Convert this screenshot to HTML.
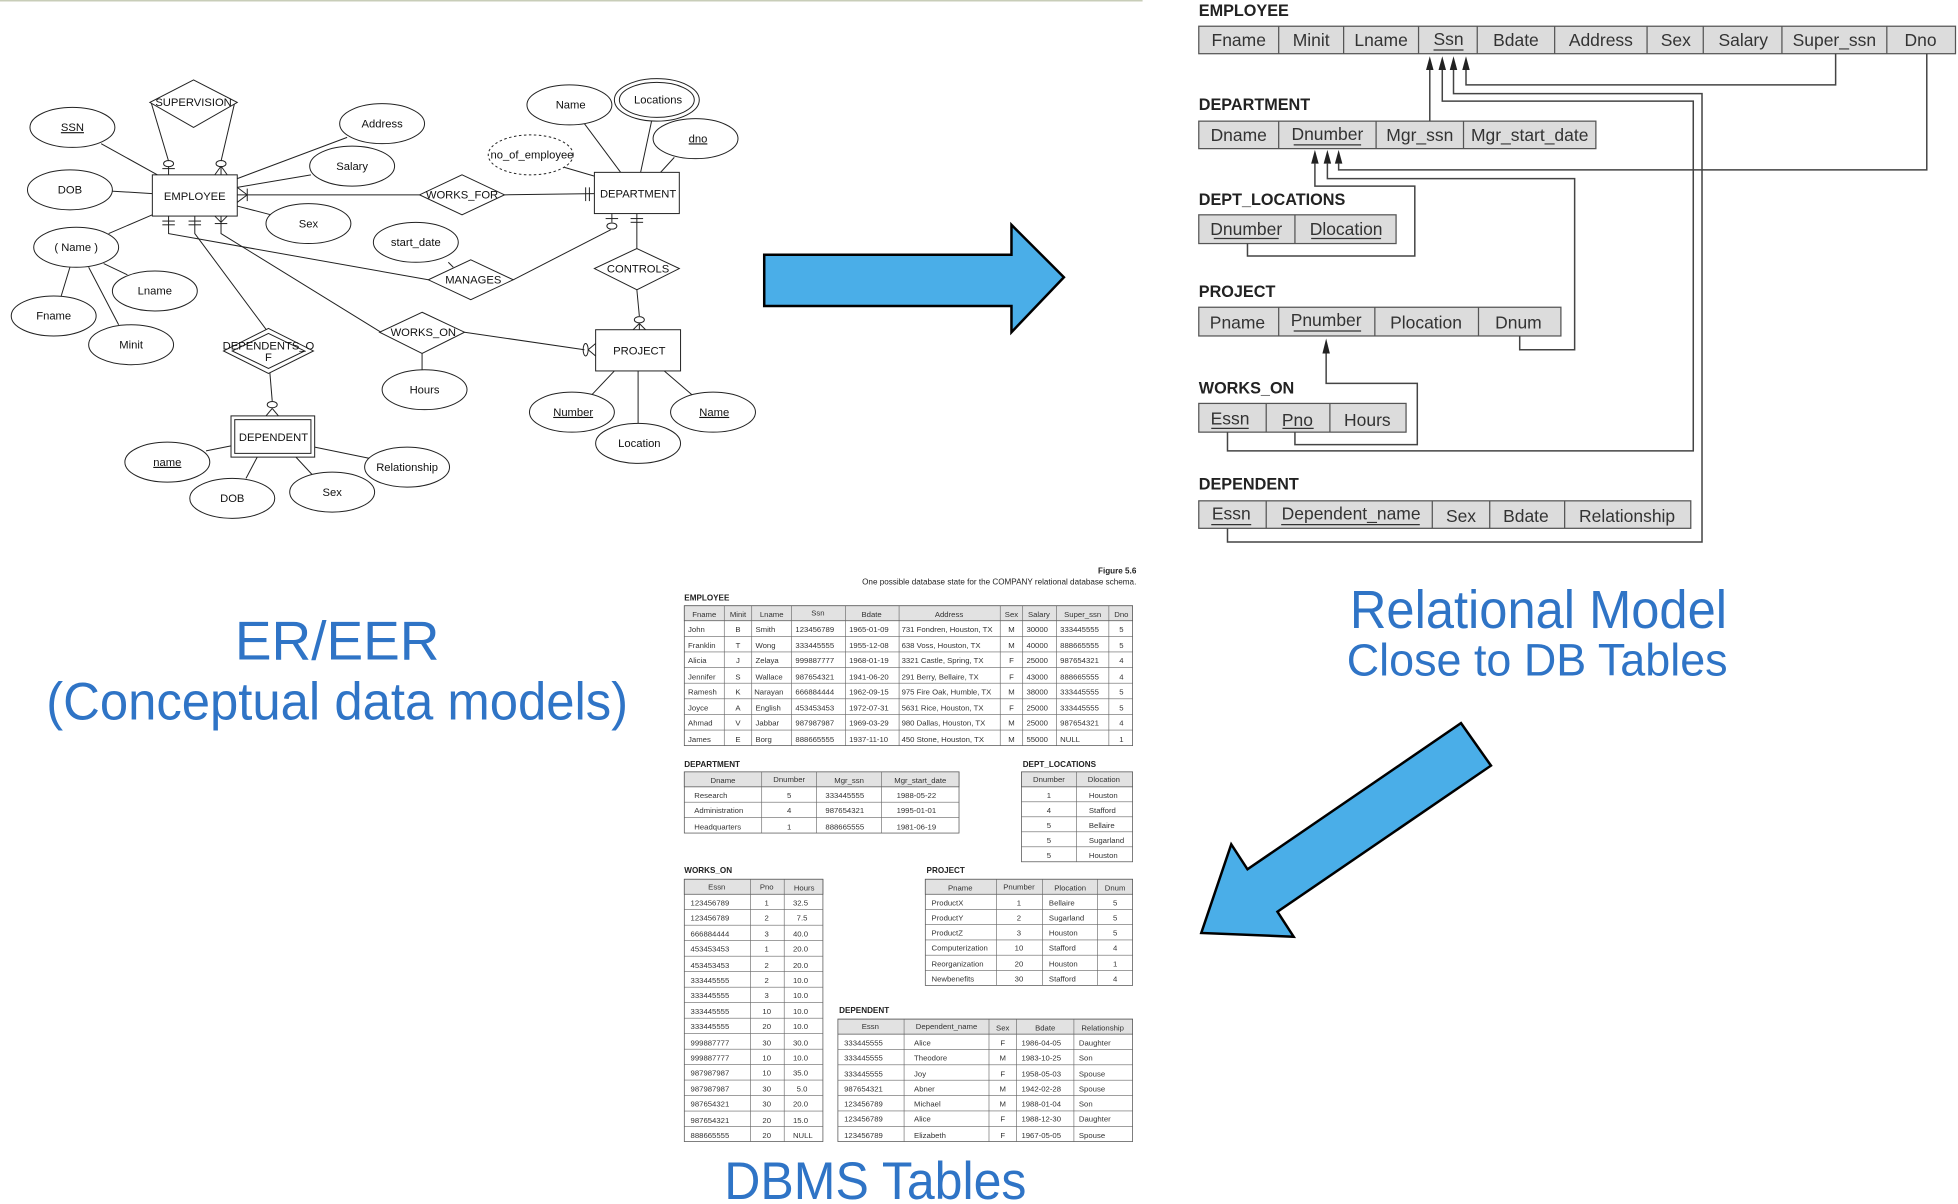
<!DOCTYPE html>
<html><head><meta charset="utf-8"><style>
html,body{margin:0;padding:0;background:#fff;}
svg{display:block;}
text{font-family:"Liberation Sans",Arial,sans-serif;}
</style></head><body>
<svg width="1958" height="1204" viewBox="0 0 1568 964" preserveAspectRatio="none" xmlns="http://www.w3.org/2000/svg">
<line x1="0" y1="0.5" x2="915" y2="0.5" stroke="#c8cdb8" stroke-width="1.5"/>

<!-- ER diagram -->
<g stroke="#222" stroke-width="0.8" fill="none">
<!-- attribute lines -->
<line x1="81" y1="115" x2="126" y2="140"/><line x1="89" y1="153" x2="122" y2="155"/>
<line x1="278" y1="110" x2="190" y2="143"/><line x1="249" y1="140" x2="190" y2="150"/>
<line x1="217" y1="172" x2="190" y2="165"/><line x1="87" y1="187" x2="122" y2="172"/>
<line x1="56" y1="214" x2="49" y2="237"/><line x1="71" y1="214" x2="95" y2="260"/>
<line x1="83" y1="211" x2="102" y2="220"/>
<line x1="121" y1="82" x2="135" y2="129"/><line x1="188" y1="82" x2="177" y2="129"/>
<line x1="135" y1="133" x2="135" y2="140"/><line x1="177" y1="133" x2="177" y2="140"/>
<line x1="130" y1="135" x2="140" y2="135"/><line x1="172" y1="140" x2="177" y2="133"/><line x1="182" y1="140" x2="177" y2="133"/>
<ellipse cx="135" cy="131" rx="4" ry="2.5"/><ellipse cx="177" cy="131" rx="4" ry="2.5"/>
<!-- works_for -->
<line x1="190" y1="156" x2="336" y2="156"/><line x1="190" y1="150" x2="198" y2="156"/><line x1="190" y1="162" x2="198" y2="156"/><line x1="198" y1="151" x2="198" y2="161"/>
<line x1="404" y1="156" x2="476" y2="155"/><line x1="469" y1="150" x2="469" y2="161"/><line x1="472" y1="150" x2="472" y2="161"/>
<!-- manages -->
<polyline points="135,173 135,187 343,224"/><line x1="130" y1="177" x2="140" y2="177"/><line x1="130" y1="180" x2="140" y2="180"/>
<line x1="411" y1="224" x2="489" y2="184"/><ellipse cx="490" cy="181" rx="4" ry="2.5"/><line x1="490" y1="171" x2="490" y2="178"/><line x1="485" y1="175" x2="495" y2="175"/>
<line x1="359" y1="210" x2="363" y2="214"/>
<!-- controls -->
<line x1="510" y1="171" x2="510" y2="199"/><line x1="505" y1="175" x2="515" y2="175"/><line x1="505" y1="178" x2="515" y2="178"/>
<line x1="510" y1="232" x2="512" y2="253"/><ellipse cx="512" cy="256" rx="4" ry="2.5"/><line x1="512" y1="259" x2="507" y2="264"/><line x1="512" y1="259" x2="517" y2="264"/><line x1="512" y1="259" x2="512" y2="264"/>
<!-- works_on -->
<polyline points="177,173 177,187 305,266"/><line x1="172" y1="179" x2="182" y2="179"/><line x1="172" y1="173" x2="177" y2="178"/><line x1="182" y1="173" x2="177" y2="178"/>
<line x1="372" y1="266" x2="468" y2="280"/><ellipse cx="469" cy="280" rx="2" ry="5"/><line x1="471" y1="280" x2="477" y2="275"/><line x1="471" y1="280" x2="477" y2="285"/>
<line x1="338" y1="283" x2="338" y2="296"/>
<!-- dependents_of -->
<polyline points="156,173 156,187 214,265"/><line x1="151" y1="177" x2="161" y2="177"/><line x1="151" y1="180" x2="161" y2="180"/>
<line x1="216" y1="297" x2="218" y2="321"/><ellipse cx="218" cy="324" rx="4" ry="2.5"/><line x1="218" y1="327" x2="213" y2="333"/><line x1="218" y1="327" x2="223" y2="333"/>
<!-- dept attrs -->
<line x1="468" y1="99" x2="497" y2="138"/><line x1="522" y1="96" x2="513" y2="138"/><line x1="540" y1="126" x2="529" y2="138"/><line x1="452" y1="134" x2="476" y2="141"/>
<!-- dependent attrs -->
<line x1="165" y1="361" x2="185" y2="357"/><line x1="197" y1="383" x2="206" y2="366"/><line x1="250" y1="380" x2="237" y2="366"/><line x1="296" y1="367" x2="252" y2="358"/>
<!-- project attrs -->
<line x1="474" y1="316" x2="492" y2="297"/><line x1="511" y1="340" x2="511" y2="297"/><line x1="554" y1="316" x2="532" y2="297"/>
</g>
<g stroke="#222" stroke-width="0.8" fill="#fff">
<rect x="122" y="140" width="68" height="33"/><rect x="476" y="138" width="68" height="33"/>
<rect x="477" y="264" width="68" height="33"/>
<rect x="185" y="333" width="67" height="33"/><rect x="188" y="336" width="61" height="27"/>
<polygon points="155,64 190,82 155,102 120,82"/>
<polygon points="370,140 404,156 370,172 336,156"/>
<polygon points="377,208 411,224 377,240 343,224"/>
<polygon points="510,199 544,215 510,232 476,215"/>
<polygon points="338,250 372,266 338,283 304,266"/>
<polygon points="215,263 251,281 215,299 179,281"/><polygon points="215,267 244,281 215,295 186,281"/>
<ellipse cx="58" cy="102" rx="34" ry="16"/><ellipse cx="56" cy="152" rx="34" ry="16"/>
<ellipse cx="306" cy="99" rx="34" ry="16"/><ellipse cx="282" cy="133" rx="34" ry="16"/>
<ellipse cx="247" cy="179" rx="34" ry="16"/><ellipse cx="61" cy="198" rx="34" ry="16"/>
<ellipse cx="124" cy="233" rx="34" ry="16"/><ellipse cx="43" cy="253" rx="34" ry="16"/>
<ellipse cx="105" cy="276" rx="34" ry="16"/><ellipse cx="333" cy="194" rx="34" ry="16"/>
<ellipse cx="340" cy="312" rx="34" ry="16"/><ellipse cx="134" cy="370" rx="34" ry="16"/>
<ellipse cx="186" cy="399" rx="34" ry="16"/><ellipse cx="266" cy="394" rx="34" ry="16"/>
<ellipse cx="326" cy="374" rx="34" ry="16"/><ellipse cx="456" cy="84" rx="34" ry="16"/>
<ellipse cx="526" cy="80" rx="34" ry="17"/><ellipse cx="526" cy="80" rx="30" ry="14"/>
<ellipse cx="557" cy="111" rx="34" ry="16"/>
<ellipse cx="425" cy="124" rx="34" ry="16" stroke-dasharray="2,2"/>
<ellipse cx="458" cy="330" rx="34" ry="16"/><ellipse cx="511" cy="355" rx="34" ry="16"/>
<ellipse cx="571" cy="330" rx="34" ry="16"/>
</g>
<g font-size="9" fill="#111" text-anchor="middle">
<text x="156" y="160">EMPLOYEE</text><text x="511" y="158">DEPARTMENT</text>
<text x="512" y="284">PROJECT</text><text x="219" y="353">DEPENDENT</text>
<text x="155" y="85">SUPERVISION</text><text x="370" y="159">WORKS_FOR</text>
<text x="379" y="227">MANAGES</text><text x="511" y="218">CONTROLS</text>
<text x="339" y="269">WORKS_ON</text><text x="215" y="280">DEPENDENTS_O</text><text x="215" y="289">F</text>
<text x="58" y="105" text-decoration="underline">SSN</text><text x="56" y="155">DOB</text>
<text x="306" y="102">Address</text><text x="282" y="136">Salary</text>
<text x="247" y="182">Sex</text><text x="61" y="201">( Name )</text>
<text x="124" y="236">Lname</text><text x="43" y="256">Fname</text>
<text x="105" y="279">Minit</text><text x="333" y="197">start_date</text>
<text x="340" y="315">Hours</text><text x="134" y="373" text-decoration="underline">name</text>
<text x="186" y="402">DOB</text><text x="266" y="397">Sex</text>
<text x="326" y="377">Relationship</text><text x="457" y="87">Name</text>
<text x="527" y="83">Locations</text><text x="559" y="114" text-decoration="underline">dno</text>
<text x="426" y="127">no_of_employee</text>
<text x="459" y="333" text-decoration="underline">Number</text><text x="512" y="358">Location</text>
<text x="572" y="333" text-decoration="underline">Name</text>
</g>

<!-- Arrows -->
<polygon points="612,204 810,204 810,180 852,222 810,266 810,245 612,245" fill="#4aaee8" stroke="#000" stroke-width="2"/>
<polygon points="1170,579 1194,613 1023,730 1036,750 962,747 986,676 999,696" fill="#4aaee8" stroke="#000" stroke-width="2"/>

<!-- Big labels -->
<g fill="#2f74c6" text-anchor="middle">
<text x="270" y="528" font-size="44">ER/EER</text>
<text x="270" y="576" font-size="42" textLength="466" lengthAdjust="spacingAndGlyphs">(Conceptual data models)</text>
<text x="1232" y="503" font-size="43" textLength="302" lengthAdjust="spacingAndGlyphs">Relational Model</text>
<text x="1231" y="541" font-size="36" textLength="305" lengthAdjust="spacingAndGlyphs">Close to DB Tables</text>
<text x="701" y="960" font-size="42" textLength="242" lengthAdjust="spacingAndGlyphs">DBMS Tables</text>
</g>

<!-- Relational schema -->
<g font-size="13" font-weight="bold" fill="#222">
<text x="960" y="13">EMPLOYEE</text><text x="960" y="88">DEPARTMENT</text>
<text x="960" y="164">DEPT_LOCATIONS</text><text x="960" y="238">PROJECT</text>
<text x="960" y="315">WORKS_ON</text><text x="960" y="392">DEPENDENT</text>
</g>
<g fill="#dcdcdc" stroke="#555" stroke-width="1">
<rect x="960" y="21" width="606" height="22"/><rect x="960" y="97" width="318" height="22"/>
<rect x="960" y="172" width="158" height="23"/><rect x="960" y="246" width="290" height="23"/>
<rect x="960" y="323" width="166" height="23"/><rect x="960" y="401" width="394" height="22"/>
</g>
<g stroke="#555" stroke-width="1">
<line x1="1024" y1="21" x2="1024" y2="43"/><line x1="1076" y1="21" x2="1076" y2="43"/><line x1="1136" y1="21" x2="1136" y2="43"/><line x1="1183" y1="21" x2="1183" y2="43"/><line x1="1245" y1="21" x2="1245" y2="43"/><line x1="1319" y1="21" x2="1319" y2="43"/><line x1="1364" y1="21" x2="1364" y2="43"/><line x1="1427" y1="21" x2="1427" y2="43"/><line x1="1511" y1="21" x2="1511" y2="43"/>
<line x1="1024" y1="97" x2="1024" y2="119"/><line x1="1102" y1="97" x2="1102" y2="119"/><line x1="1172" y1="97" x2="1172" y2="119"/>
<line x1="1037" y1="172" x2="1037" y2="195"/>
<line x1="1024" y1="246" x2="1024" y2="269"/><line x1="1101" y1="246" x2="1101" y2="269"/><line x1="1184" y1="246" x2="1184" y2="269"/>
<line x1="1014" y1="323" x2="1014" y2="346"/><line x1="1065" y1="323" x2="1065" y2="346"/>
<line x1="1014" y1="401" x2="1014" y2="423"/><line x1="1147" y1="401" x2="1147" y2="423"/><line x1="1193" y1="401" x2="1193" y2="423"/><line x1="1253" y1="401" x2="1253" y2="423"/>
</g>
<g font-size="14" fill="#333" text-anchor="middle">
<text x="992" y="37">Fname</text><text x="1050" y="37">Minit</text><text x="1106" y="37">Lname</text><text x="1160" y="36">Ssn</text><text x="1214" y="37">Bdate</text><text x="1282" y="37">Address</text><text x="1342" y="37">Sex</text><text x="1396" y="37">Salary</text><text x="1469" y="37">Super_ssn</text><text x="1538" y="37">Dno</text>
<text x="992" y="113">Dname</text><text x="1063" y="112">Dnumber</text><text x="1137" y="113">Mgr_ssn</text><text x="1225" y="113">Mgr_start_date</text>
<text x="998" y="188">Dnumber</text><text x="1078" y="188">Dlocation</text>
<text x="991" y="263">Pname</text><text x="1062" y="261">Pnumber</text><text x="1142" y="263">Plocation</text><text x="1216" y="263">Dnum</text>
<text x="985" y="340">Essn</text><text x="1039" y="341">Pno</text><text x="1095" y="341">Hours</text>
<text x="986" y="416">Essn</text><text x="1082" y="416">Dependent_name</text><text x="1170" y="418">Sex</text><text x="1222" y="418">Bdate</text><text x="1303" y="418">Relationship</text>
</g>
<g stroke="#333" stroke-width="1">
<line x1="1148" y1="40" x2="1172" y2="40"/><line x1="1036" y1="116" x2="1090" y2="116"/>
<line x1="972" y1="191" x2="1024" y2="191"/><line x1="1050" y1="191" x2="1106" y2="191"/>
<line x1="1036" y1="265" x2="1090" y2="265"/><line x1="970" y1="343" x2="1000" y2="343"/><line x1="1027" y1="343" x2="1052" y2="343"/>
<line x1="970" y1="420" x2="1002" y2="420"/><line x1="1026" y1="420" x2="1137" y2="420"/>
</g>
<g stroke="#444" stroke-width="1.2" fill="none">
<polyline points="1145,56 1145,97"/>
<polyline points="1155,56 1155,81 1356,81 1356,361 983,361 983,346"/>
<polyline points="1164,56 1164,75 1363,75 1363,434 983,434 983,423"/>
<polyline points="1174,56 1174,68 1470,68 1470,43"/>
<polyline points="1072,131 1072,136 1543,136 1543,43"/>
<polyline points="1063,131 1063,143 1261,143 1261,280 1217,280 1217,269"/>
<polyline points="1053,131 1053,149 1133,149 1133,205 999,205 999,195"/>
<polyline points="1062,283 1062,307 1135,307 1135,356 1037,356 1037,346"/>
</g>
<g fill="#222">
<polygon points="1142,56 1145,45 1148,56"/><polygon points="1152,56 1155,45 1158,56"/><polygon points="1161,56 1164,45 1167,56"/><polygon points="1171,56 1174,45 1177,56"/>
<polygon points="1050,131 1053,120 1056,131"/><polygon points="1060,131 1063,120 1066,131"/><polygon points="1069,131 1072,120 1075,131"/>
<polygon points="1059,283 1062,271 1065,283"/>
</g>

<!-- DBMS tables -->
<g font-size="6.5" fill="#222">
<text x="910" y="459" text-anchor="end" font-weight="bold">Figure 5.6</text>
<text x="910" y="468" text-anchor="end">One possible database state for the COMPANY relational database schema.</text>
<text x="548" y="481" font-weight="bold">EMPLOYEE</text>
<text x="548" y="614" font-weight="bold">DEPARTMENT</text>
<text x="819" y="614" font-weight="bold">DEPT_LOCATIONS</text>
<text x="548" y="699" font-weight="bold">WORKS_ON</text>
<text x="742" y="699" font-weight="bold">PROJECT</text>
<text x="672" y="811" font-weight="bold">DEPENDENT</text>
</g>
<g fill="#fff" stroke="#555" stroke-width="0.6">
<rect x="548" y="485" width="359" height="112"/><rect x="548" y="618" width="220" height="49"/>
<rect x="818" y="618" width="89" height="72"/><rect x="548" y="704" width="111" height="210"/>
<rect x="741" y="704" width="166" height="85"/><rect x="671" y="816" width="236" height="98"/>
</g>
<g fill="#e2e2e2" stroke="#555" stroke-width="0.6">
<rect x="548" y="485" width="359" height="12"/><rect x="548" y="618" width="220" height="12"/>
<rect x="818" y="618" width="89" height="12"/><rect x="548" y="704" width="111" height="12"/>
<rect x="741" y="704" width="166" height="12"/><rect x="671" y="816" width="236" height="12"/>
</g>
<g stroke="#666" stroke-width="0.5">
<path d="M580 485V597M602 485V597M634 485V597M677 485V597M720 485V597M801 485V597M819 485V597M846 485V597M888 485V597M548 509.5H907M548 522H907M548 534.5H907M548 547H907M548 559.5H907M548 572H907M548 584.5H907"/>
<path d="M610 618V667M654 618V667M706 618V667M548 642.3H768M548 654.6H768"/>
<path d="M862 618V690M818 642H907M818 654H907M818 666H907M818 678H907"/>
<path d="M601 704V914M628 704V914M548 728.4H659M548 740.8H659M548 753.2H659M548 765.6H659M548 778H659M548 790.4H659M548 802.8H659M548 815.2H659M548 827.6H659M548 840H659M548 852.4H659M548 864.8H659M548 877.2H659M548 889.6H659M548 902H659"/>
<path d="M798 704V789M835 704V789M879 704V789M741 728.2H907M741 740.4H907M741 752.6H907M741 764.8H907M741 777H907"/>
<path d="M724 816V914M792 816V914M814 816V914M860 816V914M671 840.3H907M671 852.6H907M671 864.9H907M671 877.2H907M671 889.5H907M671 901.8H907"/>
</g>
<g font-size="6.2" fill="#333">
<g text-anchor="middle">
<text x="564" y="494">Fname</text><text x="591" y="494">Minit</text><text x="618" y="494">Lname</text><text x="655" y="493">Ssn</text><text x="698" y="494">Bdate</text><text x="760" y="494">Address</text><text x="810" y="494">Sex</text><text x="832" y="494">Salary</text><text x="867" y="494">Super_ssn</text><text x="898" y="494">Dno</text>
<text x="579" y="627">Dname</text><text x="632" y="626">Dnumber</text><text x="680" y="627">Mgr_ssn</text><text x="737" y="627">Mgr_start_date</text>
<text x="840" y="626">Dnumber</text><text x="884" y="626">Dlocation</text>
<text x="574" y="712">Essn</text><text x="614" y="712">Pno</text><text x="644" y="713">Hours</text>
<text x="769" y="713">Pname</text><text x="816" y="712">Pnumber</text><text x="857" y="713">Plocation</text><text x="893" y="713">Dnum</text>
<text x="697" y="824">Essn</text><text x="758" y="824">Dependent_name</text><text x="803" y="825">Sex</text><text x="837" y="825">Bdate</text><text x="883" y="825">Relationship</text>
</g>
<g text-anchor="middle">
<text x="591" y="506">B</text><text x="591" y="519">T</text><text x="591" y="531">J</text><text x="591" y="544">S</text><text x="591" y="556">K</text><text x="591" y="569">A</text><text x="591" y="581">V</text><text x="591" y="594">E</text>
<text x="810" y="506">M</text><text x="810" y="519">M</text><text x="810" y="531">F</text><text x="810" y="544">F</text><text x="810" y="556">M</text><text x="810" y="569">F</text><text x="810" y="581">M</text><text x="810" y="594">M</text>
<text x="898" y="506">5</text><text x="898" y="519">5</text><text x="898" y="531">4</text><text x="898" y="544">4</text><text x="898" y="556">5</text><text x="898" y="569">5</text><text x="898" y="581">4</text><text x="898" y="594">1</text>
<text x="632" y="639">5</text><text x="632" y="651">4</text><text x="632" y="664">1</text>
<text x="840" y="639">1</text><text x="840" y="651">4</text><text x="840" y="663">5</text><text x="840" y="675">5</text><text x="840" y="687">5</text>
<text x="614" y="725">1</text><text x="614" y="737">2</text><text x="614" y="750">3</text><text x="614" y="762">1</text><text x="614" y="775">2</text><text x="614" y="787">2</text><text x="614" y="799">3</text><text x="614" y="812">10</text><text x="614" y="824">20</text><text x="614" y="837">30</text><text x="614" y="849">10</text><text x="614" y="861">10</text><text x="614" y="874">30</text><text x="614" y="886">30</text><text x="614" y="899">20</text><text x="614" y="911">20</text>
<text x="816" y="725">1</text><text x="816" y="737">2</text><text x="816" y="749">3</text><text x="816" y="761">10</text><text x="816" y="774">20</text><text x="816" y="786">30</text>
<text x="893" y="725">5</text><text x="893" y="737">5</text><text x="893" y="749">5</text><text x="893" y="761">4</text><text x="893" y="774">1</text><text x="893" y="786">4</text>
<text x="803" y="837">F</text><text x="803" y="849">M</text><text x="803" y="862">F</text><text x="803" y="874">M</text><text x="803" y="886">M</text><text x="803" y="898">F</text><text x="803" y="911">F</text>
</g>
<text x="551" y="506">John</text><text x="551" y="519">Franklin</text><text x="551" y="531">Alicia</text><text x="551" y="544">Jennifer</text><text x="551" y="556">Ramesh</text><text x="551" y="569">Joyce</text><text x="551" y="581">Ahmad</text><text x="551" y="594">James</text>
<text x="605" y="506">Smith</text><text x="605" y="519">Wong</text><text x="605" y="531">Zelaya</text><text x="605" y="544">Wallace</text><text x="604" y="556">Narayan</text><text x="605" y="569">English</text><text x="605" y="581">Jabbar</text><text x="605" y="594">Borg</text>
<text x="637" y="506">123456789</text><text x="637" y="519">333445555</text><text x="637" y="531">999887777</text><text x="637" y="544">987654321</text><text x="637" y="556">666884444</text><text x="637" y="569">453453453</text><text x="637" y="581">987987987</text><text x="637" y="594">888665555</text>
<text x="680" y="506">1965-01-09</text><text x="680" y="519">1955-12-08</text><text x="680" y="531">1968-01-19</text><text x="680" y="544">1941-06-20</text><text x="680" y="556">1962-09-15</text><text x="680" y="569">1972-07-31</text><text x="680" y="581">1969-03-29</text><text x="680" y="594">1937-11-10</text>
<text x="722" y="506">731 Fondren, Houston, TX</text><text x="722" y="519">638 Voss, Houston, TX</text><text x="722" y="531">3321 Castle, Spring, TX</text><text x="722" y="544">291 Berry, Bellaire, TX</text><text x="722" y="556">975 Fire Oak, Humble, TX</text><text x="722" y="569">5631 Rice, Houston, TX</text><text x="722" y="581">980 Dallas, Houston, TX</text><text x="722" y="594">450 Stone, Houston, TX</text>
<text x="822" y="506">30000</text><text x="822" y="519">40000</text><text x="822" y="531">25000</text><text x="822" y="544">43000</text><text x="822" y="556">38000</text><text x="822" y="569">25000</text><text x="822" y="581">25000</text><text x="822" y="594">55000</text>
<text x="849" y="506">333445555</text><text x="849" y="519">888665555</text><text x="849" y="531">987654321</text><text x="849" y="544">888665555</text><text x="849" y="556">333445555</text><text x="849" y="569">333445555</text><text x="849" y="581">987654321</text><text x="849" y="594">NULL</text>
<text x="556" y="639">Research</text><text x="556" y="651">Administration</text><text x="556" y="664">Headquarters</text>
<text x="661" y="639">333445555</text><text x="661" y="651">987654321</text><text x="661" y="664">888665555</text>
<text x="718" y="639">1988-05-22</text><text x="718" y="651">1995-01-01</text><text x="718" y="664">1981-06-19</text>
<text x="872" y="639">Houston</text><text x="872" y="651">Stafford</text><text x="872" y="663">Bellaire</text><text x="872" y="675">Sugarland</text><text x="872" y="687">Houston</text>
<text x="553" y="725">123456789</text><text x="553" y="737">123456789</text><text x="553" y="750">666884444</text><text x="553" y="762">453453453</text><text x="553" y="775">453453453</text><text x="553" y="787">333445555</text><text x="553" y="799">333445555</text><text x="553" y="812">333445555</text><text x="553" y="824">333445555</text><text x="553" y="837">999887777</text><text x="553" y="849">999887777</text><text x="553" y="861">987987987</text><text x="553" y="874">987987987</text><text x="553" y="886">987654321</text><text x="553" y="899">987654321</text><text x="553" y="911">888665555</text>
<text x="635" y="725">32.5</text><text x="638" y="737">7.5</text><text x="635" y="750">40.0</text><text x="635" y="762">20.0</text><text x="635" y="775">20.0</text><text x="635" y="787">10.0</text><text x="635" y="799">10.0</text><text x="635" y="812">10.0</text><text x="635" y="824">10.0</text><text x="635" y="837">30.0</text><text x="635" y="849">10.0</text><text x="635" y="861">35.0</text><text x="638" y="874">5.0</text><text x="635" y="886">20.0</text><text x="635" y="899">15.0</text><text x="635" y="911">NULL</text>
<text x="746" y="725">ProductX</text><text x="746" y="737">ProductY</text><text x="746" y="749">ProductZ</text><text x="746" y="761">Computerization</text><text x="746" y="774">Reorganization</text><text x="746" y="786">Newbenefits</text>
<text x="840" y="725">Bellaire</text><text x="840" y="737">Sugarland</text><text x="840" y="749">Houston</text><text x="840" y="761">Stafford</text><text x="840" y="774">Houston</text><text x="840" y="786">Stafford</text>
<text x="676" y="837">333445555</text><text x="676" y="849">333445555</text><text x="676" y="862">333445555</text><text x="676" y="874">987654321</text><text x="676" y="886">123456789</text><text x="676" y="898">123456789</text><text x="676" y="911">123456789</text>
<text x="732" y="837">Alice</text><text x="732" y="849">Theodore</text><text x="732" y="862">Joy</text><text x="732" y="874">Abner</text><text x="732" y="886">Michael</text><text x="732" y="898">Alice</text><text x="732" y="911">Elizabeth</text>
<text x="818" y="837">1986-04-05</text><text x="818" y="849">1983-10-25</text><text x="818" y="862">1958-05-03</text><text x="818" y="874">1942-02-28</text><text x="818" y="886">1988-01-04</text><text x="818" y="898">1988-12-30</text><text x="818" y="911">1967-05-05</text>
<text x="864" y="837">Daughter</text><text x="864" y="849">Son</text><text x="864" y="862">Spouse</text><text x="864" y="874">Spouse</text><text x="864" y="886">Son</text><text x="864" y="898">Daughter</text><text x="864" y="911">Spouse</text>
</g>
</svg>
</body></html>
